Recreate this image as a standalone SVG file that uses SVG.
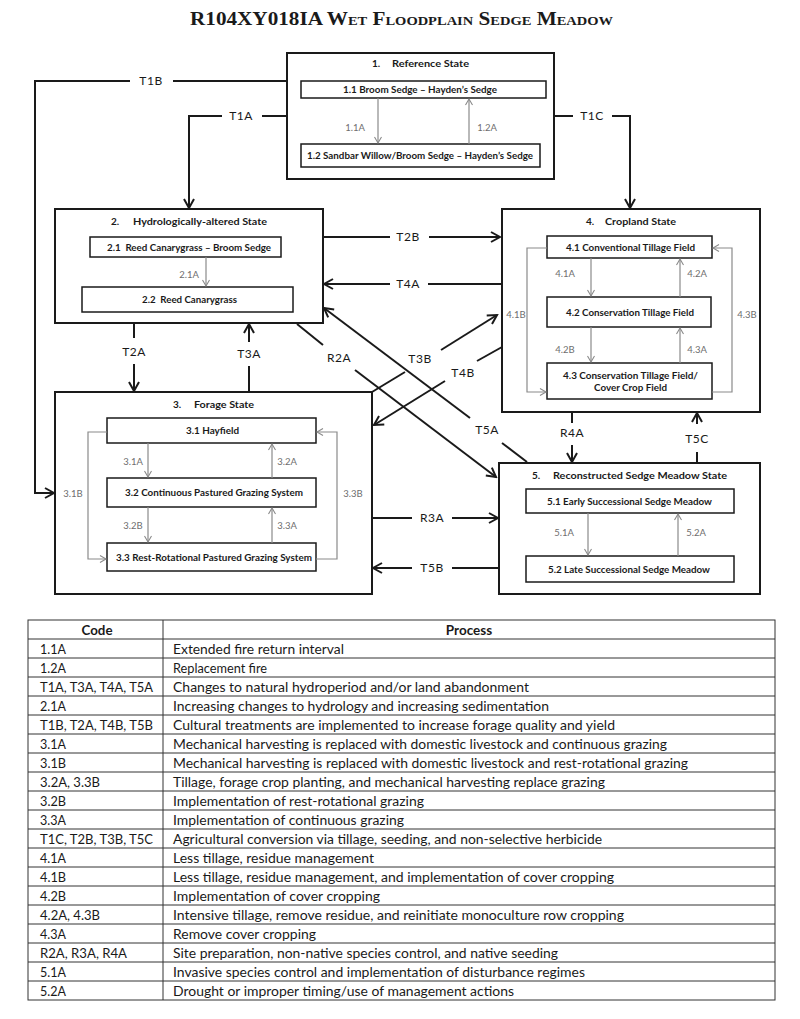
<svg xmlns="http://www.w3.org/2000/svg" width="800" height="1019" viewBox="0 0 800 1019">
<style>
.state{fill:#fff;stroke:#1a1a1a;stroke-width:2}
.comm{fill:#fff;stroke:#1a1a1a;stroke-width:1.5}
.st{font-family:Lato,"Liberation Sans",sans-serif;font-weight:bold;font-size:10px;fill:#1a1a1a}
.ct{font-family:Lato,"Liberation Sans",sans-serif;font-weight:bold;font-size:9.5px;fill:#1a1a1a}
.conn{fill:none;stroke:#1a1a1a;stroke-width:2}
.inner{fill:none;stroke:#8a8a8a;stroke-width:1.2}
.lbl{font-family:Lato,"Liberation Sans",sans-serif;font-size:12px;fill:#1a1a1a;text-anchor:middle;letter-spacing:0.5px}
.glbl{font-family:Lato,"Liberation Sans",sans-serif;font-size:9.5px;fill:#6e6e6e;text-anchor:middle}
.tb{font-family:Lato,"Liberation Sans",sans-serif;font-size:13.5px;fill:#1a1a1a}
.th{font-family:Lato,"Liberation Sans",sans-serif;font-size:13.5px;font-weight:bold;fill:#1a1a1a;text-anchor:middle}
.tl{stroke:#333;stroke-width:1;fill:none}
</style>
<defs>
<marker id="ah" markerUnits="userSpaceOnUse" markerWidth="12" markerHeight="12" refX="9" refY="5" orient="auto" viewBox="-1 -1 12 12">
<path d="M0,0 L9,5 L0,10" fill="none" stroke="#1a1a1a" stroke-width="2"/>
</marker>
<marker id="ag" markerUnits="userSpaceOnUse" markerWidth="9" markerHeight="9" refX="6" refY="3.5" orient="auto" viewBox="-1 -1 9 9">
<path d="M0,0 L6,3.5 L0,7" fill="none" stroke="#8a8a8a" stroke-width="1.1"/>
</marker>
</defs>
<rect width="800" height="1019" fill="#fff"/>
<text x="190" y="25" font-family="'Liberation Serif',serif" font-weight="bold" font-size="19" font-variant="small-caps" textLength="423" lengthAdjust="spacingAndGlyphs" fill="#1a1a1a">R104XY018IA Wet Floodplain Sedge Meadow</text>

<g id="state1">
<rect class="state" x="287" y="53" width="267" height="126"/>
<text class="st" x="372" y="67">1.</text>
<text class="st" x="392" y="67" textLength="77" lengthAdjust="spacingAndGlyphs">Reference State</text>
<g id="c1-1"><rect class="comm" x="301" y="81" width="245" height="17"/>
<text class="ct" x="343" y="93" textLength="154" lengthAdjust="spacingAndGlyphs">1.1 Broom Sedge – Hayden’s Sedge</text></g>
<g id="c1-2"><rect class="comm" x="301" y="144" width="239" height="23"/>
<text class="ct" x="307" y="159" textLength="226" lengthAdjust="spacingAndGlyphs">1.2 Sandbar Willow/Broom Sedge – Hayden’s Sedge</text></g>
</g>

<g id="state2">
<rect class="state" x="55" y="209" width="268" height="114"/>
<text class="st" x="111" y="225">2.</text>
<text class="st" x="133" y="225" textLength="134" lengthAdjust="spacingAndGlyphs">Hydrologically-altered State</text>
<g id="c2-1"><rect class="comm" x="90" y="237" width="191" height="20"/>
<text class="ct" x="107" y="250.5" textLength="164" lengthAdjust="spacingAndGlyphs" xml:space="preserve">2.1  Reed Canarygrass – Broom Sedge</text></g>
<g id="c2-2"><rect class="comm" x="82" y="287" width="211" height="25"/>
<text class="ct" x="142" y="303" textLength="95" lengthAdjust="spacingAndGlyphs" xml:space="preserve">2.2  Reed Canarygrass</text></g>
</g>

<g id="state3">
<rect class="state" x="55" y="392" width="317" height="202"/>
<text class="st" x="173" y="407.5">3.</text>
<text class="st" x="194" y="407.5" textLength="60" lengthAdjust="spacingAndGlyphs">Forage State</text>
<g id="c3-1"><rect class="comm" x="107" y="418" width="209" height="25"/>
<text class="ct" x="186" y="434" textLength="53" lengthAdjust="spacingAndGlyphs">3.1 Hayfield</text></g>
<g id="c3-2"><rect class="comm" x="107" y="478" width="209" height="29"/>
<text class="ct" x="125" y="496" textLength="178" lengthAdjust="spacingAndGlyphs">3.2 Continuous Pastured Grazing System</text></g>
<g id="c3-3"><rect class="comm" x="107" y="543" width="209" height="28"/>
<text class="ct" x="116" y="560.5" textLength="196" lengthAdjust="spacingAndGlyphs">3.3 Rest-Rotational Pastured Grazing System</text></g>
</g>

<g id="state4">
<rect class="state" x="502" y="209" width="258" height="203"/>
<text class="st" x="586" y="225">4.</text>
<text class="st" x="605" y="225" textLength="71" lengthAdjust="spacingAndGlyphs">Cropland State</text>
<g id="c4-1"><rect class="comm" x="547" y="236" width="165" height="22"/>
<text class="ct" x="566" y="250.5" textLength="129" lengthAdjust="spacingAndGlyphs">4.1 Conventional Tillage Field</text></g>
<g id="c4-2"><rect class="comm" x="547" y="297" width="164" height="30"/>
<text class="ct" x="566" y="315.5" textLength="128" lengthAdjust="spacingAndGlyphs">4.2 Conservation Tillage Field</text></g>
<g id="c4-3"><rect class="comm" x="547" y="363" width="165" height="36"/>
<text class="ct" x="563" y="378.5" textLength="135" lengthAdjust="spacingAndGlyphs">4.3 Conservation Tillage Field/</text>
<text class="ct" x="594" y="390.5" textLength="73" lengthAdjust="spacingAndGlyphs">Cover Crop Field</text></g>
</g>

<g id="state5">
<rect class="state" x="499" y="463" width="261" height="131"/>
<text class="st" x="532" y="478.5">5.</text>
<text class="st" x="553" y="478.5" textLength="174" lengthAdjust="spacingAndGlyphs">Reconstructed Sedge Meadow State</text>
<g id="c5-1"><rect class="comm" x="526" y="489" width="208" height="24"/>
<text class="ct" x="547" y="504.5" textLength="165" lengthAdjust="spacingAndGlyphs">5.1 Early Successional Sedge Meadow</text></g>
<g id="c5-2"><rect class="comm" x="526" y="556" width="208" height="26"/>
<text class="ct" x="548" y="572.5" textLength="162" lengthAdjust="spacingAndGlyphs">5.2 Late Successional Sedge Meadow</text></g>
</g>

<g id="connectors">
<path class="conn" d="M287,81 H173"/>
<path class="conn" d="M130,81 H35 V493 H54" marker-end="url(#ah)"/>
<text class="lbl" x="151" y="85">T1B</text>
<path class="conn" d="M287,116 H262"/>
<path class="conn" d="M222,116 H189 V208" marker-end="url(#ah)"/>
<text class="lbl" x="241" y="120">T1A</text>
<path class="conn" d="M554,116 H573"/>
<path class="conn" d="M612,116 H630 V208" marker-end="url(#ah)"/>
<text class="lbl" x="592" y="120">T1C</text>
<path class="conn" d="M323,237 H390"/>
<path class="conn" d="M429,237 H500" marker-end="url(#ah)"/>
<text class="lbl" x="408" y="241">T2B</text>
<path class="conn" d="M502,284 H428"/>
<path class="conn" d="M390,284 H324" marker-end="url(#ah)"/>
<text class="lbl" x="408" y="288">T4A</text>
<path class="conn" d="M134,323 V338"/>
<path class="conn" d="M134,364 V391" marker-end="url(#ah)"/>
<text class="lbl" x="134" y="356">T2A</text>
<path class="conn" d="M249,392 V366"/>
<path class="conn" d="M249,342 V324" marker-end="url(#ah)"/>
<text class="lbl" x="249" y="358">T3A</text>
<path class="conn" d="M297,324 L323,345"/>
<path class="conn" d="M355,370 L496,477" marker-end="url(#ah)"/>
<text class="lbl" x="339" y="362">R2A</text>
<path class="conn" d="M527,462 L502,443"/>
<path class="conn" d="M470,418 L324,308" marker-end="url(#ah)"/>
<text class="lbl" x="487" y="434">T5A</text>
<path class="conn" d="M372,392 L405,372"/>
<path class="conn" d="M441,350 L497,315" marker-end="url(#ah)"/>
<text class="lbl" x="420" y="363">T3B</text>
<path class="conn" d="M502,347 L477,361"/>
<path class="conn" d="M445,381 L374,425" marker-end="url(#ah)"/>
<text class="lbl" x="463" y="377">T4B</text>
<path class="conn" d="M572,412 V423"/>
<path class="conn" d="M572,445 V462" marker-end="url(#ah)"/>
<text class="lbl" x="572" y="437">R4A</text>
<path class="conn" d="M697,463 V452"/>
<path class="conn" d="M697,424 V413" marker-end="url(#ah)"/>
<text class="lbl" x="697" y="443">T5C</text>
<path class="conn" d="M372,518 H412"/>
<path class="conn" d="M452,518 H498" marker-end="url(#ah)"/>
<text class="lbl" x="432" y="522">R3A</text>
<path class="conn" d="M499,568 H452"/>
<path class="conn" d="M412,568 H373" marker-end="url(#ah)"/>
<text class="lbl" x="432" y="572">T5B</text>

<path class="inner" d="M378,98 V143" marker-end="url(#ag)"/>
<text class="glbl" x="355" y="131">1.1A</text>
<path class="inner" d="M469,144 V99" marker-end="url(#ag)"/>
<text class="glbl" x="487" y="131">1.2A</text>
<path class="inner" d="M206,257 V286" marker-end="url(#ag)"/>
<text class="glbl" x="189" y="278">2.1A</text>

<path class="inner" d="M148,443 V477" marker-end="url(#ag)"/>
<text class="glbl" x="133" y="465">3.1A</text>
<path class="inner" d="M272,478 V444" marker-end="url(#ag)"/>
<text class="glbl" x="287" y="465">3.2A</text>
<path class="inner" d="M148,507 V542" marker-end="url(#ag)"/>
<text class="glbl" x="133" y="529">3.2B</text>
<path class="inner" d="M272,543 V508" marker-end="url(#ag)"/>
<text class="glbl" x="287" y="529">3.3A</text>
<path class="inner" d="M107,432 H88 V559 H106" marker-end="url(#ag)"/>
<text class="glbl" x="73" y="497">3.1B</text>
<path class="inner" d="M316,559 H337 V432 H317" marker-end="url(#ag)"/>
<text class="glbl" x="353" y="497">3.3B</text>

<path class="inner" d="M591,258 V296" marker-end="url(#ag)"/>
<text class="glbl" x="565" y="277">4.1A</text>
<path class="inner" d="M680,297 V259" marker-end="url(#ag)"/>
<text class="glbl" x="697" y="277">4.2A</text>
<path class="inner" d="M591,327 V362" marker-end="url(#ag)"/>
<text class="glbl" x="565" y="353">4.2B</text>
<path class="inner" d="M680,363 V328" marker-end="url(#ag)"/>
<text class="glbl" x="697" y="353">4.3A</text>
<path class="inner" d="M547,248 H527 V392 H546" marker-end="url(#ag)"/>
<text class="glbl" x="516" y="318">4.1B</text>
<path class="inner" d="M712,392 H732 V248 H713" marker-end="url(#ag)"/>
<text class="glbl" x="747" y="318">4.3B</text>

<path class="inner" d="M588,513 V555" marker-end="url(#ag)"/>
<text class="glbl" x="564" y="536">5.1A</text>
<path class="inner" d="M678,556 V514" marker-end="url(#ag)"/>
<text class="glbl" x="696" y="536">5.2A</text>
</g>

<g id="legend-table">
<rect class="tl" x="28" y="620" width="747" height="380"/>
<path class="tl" d="M163,620 V1000"/>
<path class="tl" d="M28,639 H775 M28,658 H775 M28,677 H775 M28,696 H775 M28,715 H775 M28,734 H775 M28,753 H775 M28,772 H775 M28,791 H775 M28,810 H775 M28,829 H775 M28,848 H775 M28,867 H775 M28,886 H775 M28,905 H775 M28,924 H775 M28,943 H775 M28,962 H775 M28,981 H775"/>
<text class="th" x="97" y="635" textLength="31" lengthAdjust="spacingAndGlyphs">Code</text>
<text class="th" x="469" y="635">Process</text>
<g class="tb" lengthAdjust="spacingAndGlyphs">
<text x="40" y="654" textLength="26" lengthAdjust="spacingAndGlyphs">1.1A</text><text x="173" y="654" textLength="171" lengthAdjust="spacingAndGlyphs">Extended fire return interval</text>
<text x="40" y="673" textLength="26" lengthAdjust="spacingAndGlyphs">1.2A</text><text x="173" y="673" textLength="94" lengthAdjust="spacingAndGlyphs">Replacement fire</text>
<text x="40" y="692" textLength="113" lengthAdjust="spacingAndGlyphs">T1A, T3A, T4A, T5A</text><text x="173" y="692" textLength="356" lengthAdjust="spacingAndGlyphs">Changes to natural hydroperiod and/or land abandonment</text>
<text x="40" y="711" textLength="26" lengthAdjust="spacingAndGlyphs">2.1A</text><text x="173" y="711" textLength="376" lengthAdjust="spacingAndGlyphs">Increasing changes to hydrology and increasing sedimentation</text>
<text x="40" y="730" textLength="113" lengthAdjust="spacingAndGlyphs">T1B, T2A, T4B, T5B</text><text x="173" y="730" textLength="442" lengthAdjust="spacingAndGlyphs">Cultural treatments are implemented to increase forage quality and yield</text>
<text x="40" y="749" textLength="26" lengthAdjust="spacingAndGlyphs">3.1A</text><text x="173" y="749" textLength="494" lengthAdjust="spacingAndGlyphs">Mechanical harvesting is replaced with domestic livestock and continuous grazing</text>
<text x="40" y="768" textLength="26" lengthAdjust="spacingAndGlyphs">3.1B</text><text x="173" y="768" textLength="515" lengthAdjust="spacingAndGlyphs">Mechanical harvesting is replaced with domestic livestock and rest-rotational grazing</text>
<text x="40" y="787" textLength="60" lengthAdjust="spacingAndGlyphs">3.2A, 3.3B</text><text x="173" y="787" textLength="432" lengthAdjust="spacingAndGlyphs">Tillage, forage crop planting, and mechanical harvesting replace grazing</text>
<text x="40" y="806" textLength="26" lengthAdjust="spacingAndGlyphs">3.2B</text><text x="173" y="806" textLength="251" lengthAdjust="spacingAndGlyphs">Implementation of rest-rotational grazing</text>
<text x="40" y="825" textLength="26" lengthAdjust="spacingAndGlyphs">3.3A</text><text x="173" y="825" textLength="231" lengthAdjust="spacingAndGlyphs">Implementation of continuous grazing</text>
<text x="40" y="844" textLength="113" lengthAdjust="spacingAndGlyphs">T1C, T2B, T3B, T5C</text><text x="173" y="844" textLength="429" lengthAdjust="spacingAndGlyphs">Agricultural conversion via tillage, seeding, and non-selective herbicide</text>
<text x="40" y="863" textLength="26" lengthAdjust="spacingAndGlyphs">4.1A</text><text x="173" y="863" textLength="201" lengthAdjust="spacingAndGlyphs">Less tillage, residue management</text>
<text x="40" y="882" textLength="26" lengthAdjust="spacingAndGlyphs">4.1B</text><text x="173" y="882" textLength="441" lengthAdjust="spacingAndGlyphs">Less tillage, residue management, and implementation of cover cropping</text>
<text x="40" y="901" textLength="26" lengthAdjust="spacingAndGlyphs">4.2B</text><text x="173" y="901" textLength="207" lengthAdjust="spacingAndGlyphs">Implementation of cover cropping</text>
<text x="40" y="920" textLength="60" lengthAdjust="spacingAndGlyphs">4.2A, 4.3B</text><text x="173" y="920" textLength="451" lengthAdjust="spacingAndGlyphs">Intensive tillage, remove residue, and reinitiate monoculture row cropping</text>
<text x="40" y="939" textLength="26" lengthAdjust="spacingAndGlyphs">4.3A</text><text x="173" y="939" textLength="143" lengthAdjust="spacingAndGlyphs">Remove cover cropping</text>
<text x="40" y="958" textLength="87" lengthAdjust="spacingAndGlyphs">R2A, R3A, R4A</text><text x="173" y="958" textLength="385" lengthAdjust="spacingAndGlyphs">Site preparation, non-native species control, and native seeding</text>
<text x="40" y="977" textLength="26" lengthAdjust="spacingAndGlyphs">5.1A</text><text x="173" y="977" textLength="412" lengthAdjust="spacingAndGlyphs">Invasive species control and implementation of disturbance regimes</text>
<text x="40" y="996" textLength="26" lengthAdjust="spacingAndGlyphs">5.2A</text><text x="173" y="996" textLength="341" lengthAdjust="spacingAndGlyphs">Drought or improper timing/use of management actions</text>
</g>
</g>
</svg>
